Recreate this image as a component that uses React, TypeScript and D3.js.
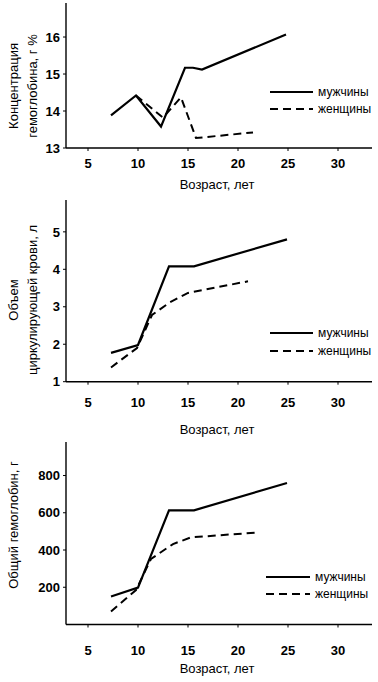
import React from "react";
import * as d3 from "d3";

// ---- data ----
const xTicks = [5, 10, 15, 20, 25, 30];
const legendLabels = ["мужчины", "женщины"];
const xTitle = "Возраст, лет";

const hbConcMenAge = [7.3, 9.8, 12.3, 14.7, 15.5, 16.4, 24.8];
const hbConcMenVal = [13.88, 14.42, 13.58, 15.17, 15.17, 15.12, 16.07];
const hbConcWomenAge = [9.8, 12.5, 14.3, 15.8, 21.5];
const hbConcWomenVal = [14.42, 13.82, 14.37, 13.27, 13.42];
const hbConcTicks = [13, 14, 15, 16];
const hbConcLabel = ["Концентрация", "гемоглобина, г %"];

const bloodVolMenAge = [7.3, 10.0, 13.1, 15.6, 24.9];
const bloodVolMenVal = [1.77, 1.98, 4.08, 4.08, 4.8];
const bloodVolWomenAge = [7.3, 9.9, 11.4, 13.2, 15.0, 21.0];
const bloodVolWomenVal = [1.38, 1.9, 2.78, 3.12, 3.37, 3.68];
const bloodVolTicks = [1, 2, 3, 4, 5];
const bloodVolLabel = ["Объем", "циркулирующей крови, л"];

const totalHbMenAge = [7.3, 10.0, 13.1, 15.6, 24.9];
const totalHbMenVal = [150, 198, 613, 613, 760];
const totalHbWomenAge = [7.3, 9.8, 11.3, 13.5, 15.3, 21.7];
const totalHbWomenVal = [70, 185, 352, 432, 468, 493];
const totalHbTicks = [200, 400, 600, 800];
const totalHbLabel = ["Общий гемоглобин, г"];

const FONT = "'Liberation Sans Narrow', 'Arial Narrow', 'Liberation Sans', Arial, sans-serif";

type Panel = {
  menAge: number[]; menVal: number[];
  womenAge: number[]; womenVal: number[];
  yDomain: [number, number]; yRange: [number, number];
  yTicks: number[]; label: string[]; labelY: number;
  legendY: [number, number]; legendX: [number, number];
  xLabelY: number; xTitleY: number;
};

const panels: Panel[] = [
  {
    menAge: hbConcMenAge, menVal: hbConcMenVal,
    womenAge: hbConcWomenAge, womenVal: hbConcWomenVal,
    yDomain: [13, 16.92], yRange: [148, 3], yTicks: hbConcTicks,
    label: hbConcLabel, labelY: 86,
    legendY: [92, 109], legendX: [270, 313],
    xLabelY: 163, xTitleY: 184,
  },
  {
    menAge: bloodVolMenAge, menVal: bloodVolMenVal,
    womenAge: bloodVolWomenAge, womenVal: bloodVolWomenVal,
    yDomain: [1, 5.85], yRange: [381.7, 200], yTicks: bloodVolTicks,
    label: bloodVolLabel, labelY: 300,
    legendY: [333, 351], legendX: [270, 313],
    xLabelY: 402, xTitleY: 429,
  },
  {
    menAge: totalHbMenAge, menVal: totalHbMenVal,
    womenAge: totalHbWomenAge, womenVal: totalHbWomenVal,
    yDomain: [0, 980], yRange: [624.5, 442], yTicks: totalHbTicks,
    label: totalHbLabel, labelY: 525,
    legendY: [577, 594], legendX: [266, 310],
    xLabelY: 650, xTitleY: 668,
  },
];

const x = d3.scaleLinear().domain([2.8, 33.4]).range([66, 372]);

function PanelView({ p }: { p: Panel }) {
  const y = d3.scaleLinear().domain(p.yDomain).range(p.yRange);
  const line = d3.line<[number, number]>().x((d) => x(d[0])).y((d) => y(d[1]));
  const men = line(p.menAge.map((a, i) => [a, p.menVal[i]] as [number, number]));
  const women = line(p.womenAge.map((a, i) => [a, p.womenVal[i]] as [number, number]));
  const y0 = p.yRange[0];
  const [x0, x1] = x.range();
  return (
    <g>
      <path d={women || ""} fill="none" stroke="#000" strokeWidth={2} strokeDasharray="8,5" />
      <path d={men || ""} fill="none" stroke="#000" strokeWidth={2.2} />
      <line x1={x0} x2={x0} y1={p.yRange[1]} y2={y0} stroke="#000" strokeWidth={1.4} />
      <line x1={x0} x2={x1} y1={y0} y2={y0} stroke="#000" strokeWidth={1.4} />
      {p.yTicks.map((t) => (
        <g key={t}>
          <line x1={x0 - 3} x2={x0} y1={y(t)} y2={y(t)} stroke="#000" strokeWidth={1} />
          <text x={x0 - 6} y={y(t)} dy="0.36em" textAnchor="end" fontSize={13} fontWeight="bold">{t}</text>
        </g>
      ))}
      {xTicks.map((t) => (
        <g key={t}>
          <line x1={x(t)} x2={x(t)} y1={y0} y2={y0 + 3} stroke="#000" strokeWidth={1} />
          <text x={x(t)} y={p.xLabelY} dy="0.36em" textAnchor="middle" fontSize={13} fontWeight="bold">{t}</text>
        </g>
      ))}
      <text x={217} y={p.xTitleY} dy="0.36em" textAnchor="middle" fontSize={13}>{xTitle}</text>
      {p.label.map((l, i) => (
        <text key={l} transform={`translate(${13 + i * 19},${p.labelY}) rotate(-90)`} dy="0.36em" textAnchor="middle" fontSize={13}>{l}</text>
      ))}
      <line x1={p.legendX[0]} x2={p.legendX[1]} y1={p.legendY[0]} y2={p.legendY[0]} stroke="#000" strokeWidth={2.2} />
      <line x1={p.legendX[0]} x2={p.legendX[1]} y1={p.legendY[1]} y2={p.legendY[1]} stroke="#000" strokeWidth={2} strokeDasharray="8,5" />
      {legendLabels.map((l, i) => (
        <text key={l} x={p.legendX[1] + 5} y={p.legendY[i]} dy="0.3em" fontSize={12}>{l}</text>
      ))}
    </g>
  );
}

export default function App() {
  return (
    <svg width={378} height={682} style={{ position: "absolute", left: 0, top: 0, background: "#fff" }} fontFamily={FONT}>
      <rect width={378} height={682} fill="#fff" />
      {panels.map((p, i) => <PanelView key={i} p={p} />)}
    </svg>
  );
}
